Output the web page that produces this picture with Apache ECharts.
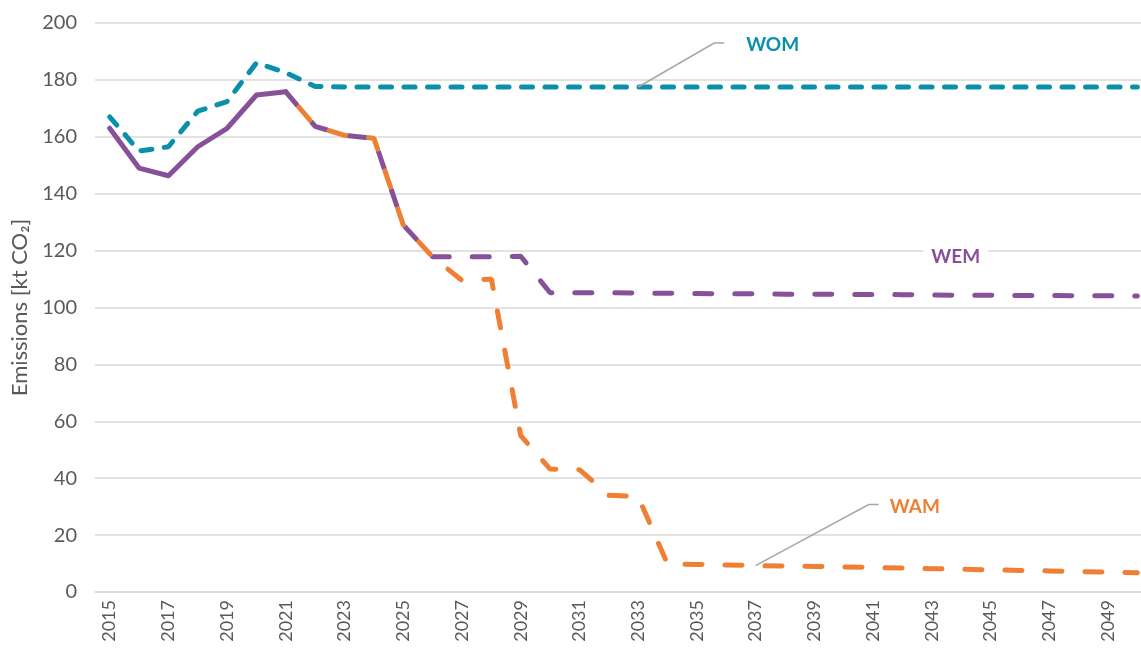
<!DOCTYPE html>
<html lang="en">
<head>
    <meta charset="UTF-8">
    <title>Emissions</title>
    <script src="https://cdn.jsdelivr.net/npm/echarts@6/dist/echarts.min.js"></script>
    <style>
        body { margin: 0; background: #fff; }
        #main { width: 1141px; height: 657px; }
    </style>
</head>
<body>
<div id="main"></div>

<script type="text/javascript">

    var years = ['2015','2016','2017','2018','2019','2020','2021','2022','2023','2024',
        '2025','2026','2027','2028','2029','2030','2031','2032','2033','2034',
        '2035','2036','2037','2038','2039','2040','2041','2042','2043','2044',
        '2045','2046','2047','2048','2049','2050']

    var yTicks = [0, 20, 40, 60, 80, 100, 120, 140, 160, 180, 200]

    // without measures
    var wom = [167, 155, 156.5, 169, 172.4, 186, 182.5, 177.7, 177.5, 177.5,
        177.5, 177.5, 177.5, 177.5, 177.5, 177.5, 177.5, 177.5, 177.5, 177.5,
        177.5, 177.5, 177.5, 177.5, 177.5, 177.5, 177.5, 177.5, 177.5, 177.5,
        177.5, 177.5, 177.5, 177.5, 177.5, 177.5]

    // with existing measures, history part (solid)
    var wemHist = [163, 149, 146.3, 156.5, 163, 174.7, 175.8]

    // with existing measures, projection (dashed)
    var wemProj = [null, null, null, null, null, null, 175.8, 163.7, 160.5, 159.5,
        129, 117.8, 117.8, 117.8, 118, 105.2, 105.2, 105.2, 105.1, 105.0,
        104.9, 104.8, 104.8, 104.7, 104.7, 104.6, 104.6, 104.5, 104.4, 104.3,
        104.3, 104.2, 104.2, 104.1, 104.1, 104.0]

    // with additional measures
    var wam = [null, null, null, null, null, null, 175.8, 163.7, 160.5, 159.5,
        129, 117.8, 109.5, 110, 55, 43.2, 43, 34, 33.5, 9.8,
        9.7, 9.5, 9.3, 9.1, 9.0, 8.8, 8.6, 8.4, 8.2, 8.0,
        7.8, 7.6, 7.4, 7.2, 7.0, 6.8]

    var teal = '#0b8fab'
    var purple = '#87519a'
    var orange = '#ef7f32'
    var gray = '#595959'
    var font = 'Lato, "Noto Sans", sans-serif'

    var myChart = echarts.init(document.getElementById('main'))

    var option = {
        animation: false,
        textStyle: { fontFamily: font },
        // the original picture is cut off at the right, so the grid runs past the edge
        grid: { left: 95, right: -11, top: 23, bottom: 65, outerBoundsMode: 'none', containLabel: false },
        xAxis: {
            type: 'category',
            data: years,
            boundaryGap: true,
            axisLine: { lineStyle: { color: '#d9d9d9', width: 1.5 } },
            axisTick: { show: false },
            axisLabel: {
                interval: 1,
                rotate: 90,
                color: gray,
                fontSize: 18,
                margin: 8,
                fontFamily: font
            }
        },
        yAxis: {
            type: 'value',
            min: yTicks[0],
            max: yTicks[yTicks.length - 1],
            interval: 20,
            name: 'Emissions [kt CO\u2082]',
            nameLocation: 'middle',
            nameGap: 60,
            nameTextStyle: { color: gray, fontSize: 22, fontFamily: font },
            axisLine: { show: false },
            axisTick: { show: false },
            axisLabel: { color: gray, fontSize: 20, margin: 18, fontFamily: font },
            splitLine: { lineStyle: { color: '#d9d9d9', width: 1.5 } }
        },
        series: [
            {
                name: 'WOM',
                type: 'line',
                data: wom,
                showSymbol: false,
                lineStyle: { color: teal, width: 5, type: [11, 12.5], cap: 'round' },
                z: 3
            },
            {
                name: 'WEM hist',
                type: 'line',
                data: wemHist,
                showSymbol: false,
                lineStyle: { color: purple, width: 5, cap: 'round', join: 'round' },
                z: 4
            },
            {
                name: 'WEM',
                type: 'line',
                data: wemProj,
                showSymbol: false,
                lineStyle: { color: purple, width: 5, type: [17, 23], cap: 'round' },
                z: 4
            },
            {
                name: 'WAM',
                type: 'line',
                data: wam,
                showSymbol: false,
                lineStyle: { color: orange, width: 5, type: [17, 23], dashOffset: 20, cap: 'round' },
                z: 5
            }
        ]
    }

    myChart.setOption(option)

    // labels with leader lines, placed from the data points
    function px(i, arr) {
        return myChart.convertToPixel({ xAxisIndex: 0, yAxisIndex: 0 }, [years[i], arr[i]])
    }

    var pWom = px(18, wom)
    var pWam = px(22, wam)
    var pWem = px(28, wemProj)
    var leader = { stroke: '#a6a6a6', lineWidth: 1.5, fill: null }
    var labelFont = 'bold 19px ' + font

    myChart.setOption({
        graphic: [
            {
                type: 'polyline', z: 10,
                shape: { points: [[pWom[0], pWom[1]], [pWom[0] + 76, pWom[1] - 44], [pWom[0] + 86, pWom[1] - 44]] },
                style: leader
            },
            {
                type: 'text', z: 10, x: pWom[0] + 108, y: pWom[1] - 42,
                style: { text: 'WOM', font: labelFont, fill: teal, verticalAlign: 'middle' }
            },
            {
                type: 'polyline', z: 10,
                shape: { points: [[pWam[0], pWam[1]], [pWam[0] + 113, pWam[1] - 61], [pWam[0] + 123, pWam[1] - 61]] },
                style: leader
            },
            {
                type: 'text', z: 10, x: pWam[0] + 134, y: pWam[1] - 59,
                style: { text: 'WAM', font: labelFont, fill: orange, verticalAlign: 'middle' }
            },
            {
                type: 'text', z: 10, x: pWem[0] + 24, y: pWem[1] - 38,
                style: {
                    text: 'WEM', font: labelFont, fill: purple,
                    align: 'center', verticalAlign: 'middle',
                    backgroundColor: '#fff', padding: [2, 8]
                }
            }
        ]
    })

</script>
</body>
</html>
